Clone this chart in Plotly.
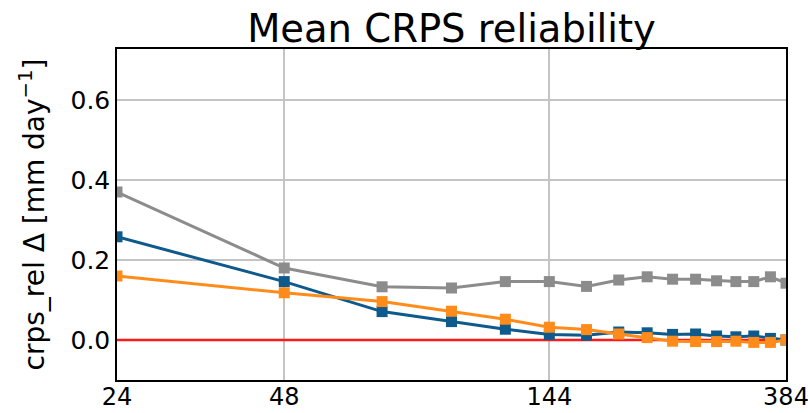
import plotly.graph_objects as go

# Lead times in hours
lead_hours = [24, 48, 72, 96, 120, 144, 168, 192, 216, 240, 264, 288, 312, 336, 360, 384]

# CRPS reliability difference per experiment
rel_blue = [0.258, 0.146, 0.071, 0.046, 0.027, 0.014, 0.012, 0.020, 0.018, 0.014,
            0.015, 0.010, 0.008, 0.010, 0.004, 0.000]
rel_orange = [0.160, 0.118, 0.096, 0.072, 0.052, 0.032, 0.026, 0.015, 0.006, -0.003,
              -0.004, -0.004, -0.003, -0.006, -0.006, 0.000]
rel_gray = [0.370, 0.180, 0.133, 0.130, 0.146, 0.146, 0.134, 0.150, 0.158, 0.152,
            0.152, 0.148, 0.146, 0.146, 0.158, 0.142]

x_ticks = [24, 48, 144, 384]
y_ticks = [0.0, 0.2, 0.4, 0.6]

FONT = "DejaVu Sans"

fig = go.Figure()

# zero reference line
fig.add_trace(go.Scatter(
    x=[lead_hours[0], lead_hours[-1]], y=[0, 0], mode="lines",
    line=dict(color="#ff1a1a", width=2.5), showlegend=False, hoverinfo="skip"))

for vals, color in [(rel_gray, "#8c8c8c"), (rel_blue, "#0e5a8c"), (rel_orange, "#ff8c1a")]:
    fig.add_trace(go.Scatter(
        x=lead_hours, y=vals, mode="lines+markers",
        line=dict(color=color, width=3),
        marker=dict(symbol="square", size=11, color=color),
        showlegend=False))

fig.update_layout(
    width=808, height=413,
    margin=dict(l=117, r=22, t=49, b=33),
    paper_bgcolor="white", plot_bgcolor="white",
    title=dict(text="Mean CRPS reliability", xref="paper", x=0.5, xanchor="center",
               yref="container", y=0.93, yanchor="middle",
               font=dict(family=FONT, size=38.5, color="black")),
    font=dict(family=FONT, color="black"),
)

fig.update_xaxes(
    type="log", range=[1.38021, 2.58434],
    tickvals=x_ticks, ticktext=[str(v) for v in x_ticks],
    tickfont=dict(size=24), ticks="", ticklen=0, automargin=False,
    ticklabeloverflow="allow", ticklabelstandoff=-6,
    showgrid=True, gridcolor="#c4c4c4", gridwidth=1.5,
    showline=True, linecolor="black", linewidth=1.5, mirror=True, zeroline=False,
)
fig.update_yaxes(
    range=[-0.1, 0.7275],
    tickvals=y_ticks, ticktext=["0.0", "0.2", "0.4", "0.6"],
    tickfont=dict(size=25), ticks="", automargin=False,
    title=dict(text="crps_rel Δ [mm day<sup>−1</sup>]", font=dict(size=28), standoff=18),
    showgrid=True, gridcolor="#c4c4c4", gridwidth=1.5,
    showline=True, linecolor="black", linewidth=1.5, mirror=True, zeroline=False,
)

fig.write_html("out.html")
